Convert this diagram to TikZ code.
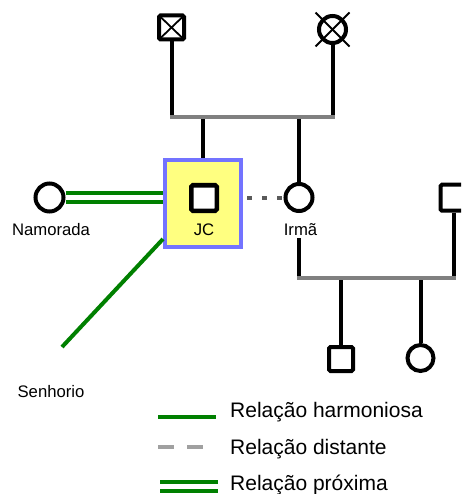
\documentclass[tikz,border=0pt]{standalone}
\usepackage{fontspec}
\setmainfont{Liberation Sans}
\definecolor{gline}{HTML}{808080}
\definecolor{grn}{HTML}{008000}
\definecolor{jcblue}{HTML}{7373FF}
\definecolor{jcyel}{HTML}{FFFF80}
\definecolor{dotg}{HTML}{5A5A5A}
\definecolor{legg}{HTML}{A0A0A0}
\begin{document}
\begin{tikzpicture}[x=1pt,y=-1pt,
  male/.style={draw,line width=4pt,rectangle,minimum size=25pt,inner sep=0pt,fill=white,rounded corners=1.5pt},
  female/.style={draw,line width=4pt,circle,minimum size=27pt,inner sep=0pt,fill=white},
  deadx/.style={path picture={\draw[line width=1.8pt] (path picture bounding box.north west) -- (path picture bounding box.south east) (path picture bounding box.north east) -- (path picture bounding box.south west);}},
  kin/.style={line width=4pt},
  sib/.style={line width=4pt,gline,line cap=rect},
  harm/.style={line width=4pt,grn},
  prox/.style={grn,line width=4pt,double=white,double distance=5pt},
  dist/.style={line width=4pt,legg,dash pattern=on 16pt off 13pt},
  weak/.style={line width=4pt,dotg,dash pattern=on 5pt off 10pt,dash phase=11pt},
  xline/.style={line width=1.8pt},
  lab/.style={font=\fontsize{16.7}{18}\selectfont,inner sep=0pt,anchor=base},
  leg/.style={font=\fontsize{21}{24}\selectfont,inner sep=0pt,anchor=base west},
]
\useasboundingbox (0,0) rectangle (461,494);
\clip (0,0) rectangle (461,494);

% parents
\node[male,deadx,minimum width=25pt,minimum height=24pt] (fa) at (171.5,27.5) {};
\node[female] (mo) at (332.5,29.5) {};
\draw[xline] (mo) ++(-17,-17) -- ++(34,34);
\draw[xline] (mo) ++(17,-17) -- ++(-34,34);

% JC box
\node[draw=jcblue,fill=jcyel,line width=4pt,minimum width=76pt,minimum height=87pt,inner sep=0pt] (jc) at (203,203.5) {};
\node[male,line width=4.5pt,minimum size=25.5pt] (jcsq) at (204,198) {};
\node[lab] (jcl) at (204,235) {JC};

% sister
\node[female] (ir) at (299,197.5) {};
\node[lab] (irl) at (300.5,235) {Irmã};

% sister's partner
\node[male,minimum size=26pt] (hu) at (453.5,197.7) {};

% children
\node[male,minimum size=24pt] (c1) at (341,359) {};
\node[female,minimum size=26pt] (c2) at (420.5,358) {};

% girlfriend
\node[female,minimum size=28pt] (nam) at (49.5,197.5) {};
\node[lab] (naml) at (51,235) {Namorada};
\node[lab] (senl) at (51,397) {Senhorio};

% kinship lines
\coordinate (t1) at (171.5,117);
\coordinate (t2) at (332.5,117);
\coordinate (t3) at (203,117);
\coordinate (t4) at (299,117);
\draw[kin] (fa) -- (t1);
\draw[kin] (mo) -- (t2);
\draw[kin] (t3) -- (jc);
\draw[kin] (t4) -- (ir);
\draw[sib] (t1) -- (t2);

\coordinate (ib) at (299,238);
\coordinate (b1) at (299,278);
\coordinate (b2) at (453.5,278);
\coordinate (b3) at (341,278);
\coordinate (b4) at (420.5,278);
\draw[kin] (ib) -- (b1);
\draw[kin] (hu) -- (b2);
\draw[kin] (b3) -- (c1);
\draw[kin] (b4) -- (c2);
\draw[sib] (b1) -- (b2);

% relations
\draw[prox] (nam) -- (nam -| jc.west);
\coordinate (sh) at (62,347);
\draw[harm] ([yshift=10pt]jc.south west) -- (sh);
\draw[weak] (ir -| jc.east) -- (ir);

% legend
\coordinate (l1a) at (158,417);
\coordinate (l1b) at (216,417);
\draw[harm] (l1a) -- (l1b);
\node[leg] (l1t) at (230,417) {Relação harmoniosa};
\coordinate (l2a) at (158,447);
\coordinate (l2b) at (203,447);
\draw[dist] (l2a) -- (l2b);
\node[leg] (l2t) at (230,454) {Relação distante};
\coordinate (l3a) at (160,486);
\coordinate (l3b) at (218,486);
\draw[prox] (l3a) -- (l3b);
\node[leg] (l3t) at (230,490) {Relação próxima};
\end{tikzpicture}
\end{document}
